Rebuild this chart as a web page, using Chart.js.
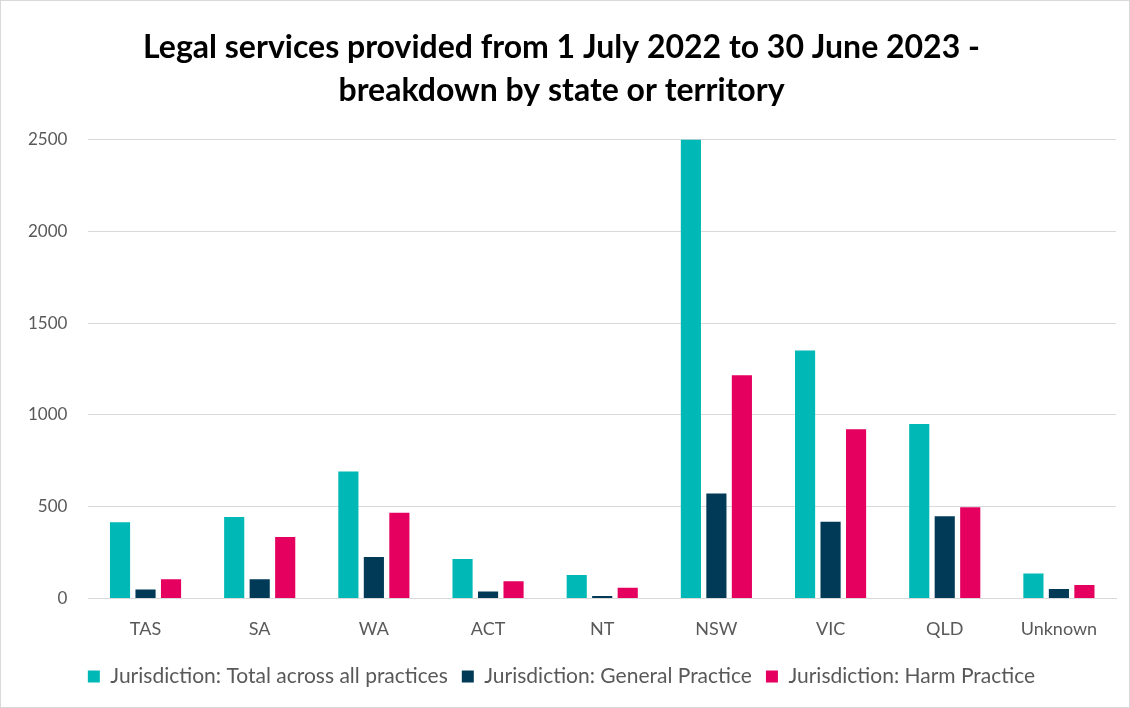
<!DOCTYPE html>
<html>
<head>
<meta charset="utf-8">
<script src="https://cdn.jsdelivr.net/npm/chart.js@4"></script>
<style>
  html, body { margin: 0; padding: 0; background: #fff; }
  #wrap { position: absolute; left: 0; top: 0; width: 1128px; height: 706px; border: 1px solid #d9d9d9; }
  canvas { display: block; }
</style>
</head>
<body>
<div id="wrap"><canvas id="c" width="1128" height="706"></canvas></div>
<script>
const categories = ['TAS', 'SA', 'WA', 'ACT', 'NT', 'NSW', 'VIC', 'QLD', 'Unknown'];
const totalAll = [415, 444, 691, 215, 127, 2500, 1350, 950, 136];
const generalPractice = [49, 104, 225, 38, 13, 571, 418, 448, 51];
const harmPractice = [104, 335, 466, 93, 58, 1215, 922, 497, 73];
const seriesNames = ['Jurisdiction: Total across all practices', 'Jurisdiction: General Practice', 'Jurisdiction: Harm Practice'];
const yTicks = [0, 500, 1000, 1500, 2000, 2500];

const colors = ['#00b8b5', '#003a56', '#e5005f'];
const fontFamily = "Lato, 'Open Sans', sans-serif";

new Chart(document.getElementById('c'), {
  type: 'bar',
  data: {
    labels: categories,
    datasets: [totalAll, generalPractice, harmPractice].map((d, i) => ({
      label: seriesNames[i],
      data: d,
      backgroundColor: colors[i],
      borderWidth: 0,
      barPercentage: 0.79,
      categoryPercentage: 0.67
    }))
  },
  options: {
    responsive: false,
    animation: false,
    layout: { padding: { left: 6, right: 13, top: 0, bottom: 10 } },
    plugins: {
      title: {
        display: true,
        text: ['Legal services provided from 1 July 2022 to 30 June 2023 -', 'breakdown by state or territory'],
        color: '#000',
        font: { family: fontFamily, size: 32, weight: 'bold', lineHeight: 1.32 },
        padding: { top: 26, bottom: 28 }
      },
      legend: {
        position: 'bottom',
        labels: {
          color: '#595959',
          font: { family: fontFamily, size: 21 },
          boxWidth: 12,
          boxHeight: 12,
          padding: 14
        }
      },
      tooltip: { enabled: false }
    },
    scales: {
      x: {
        grid: { display: false },
        border: { color: '#d9d9d9', width: 1 },
        ticks: { color: '#595959', font: { family: fontFamily, size: 18 }, padding: 12 }
      },
      y: {
        min: 0,
        max: 2500,
        afterBuildTicks: axis => { axis.ticks = yTicks.map(v => ({ value: v })); },
        grid: { color: '#d9d9d9', lineWidth: 1, drawTicks: false },
        border: { display: false },
        ticks: {
          color: '#595959',
          font: { family: fontFamily, size: 17 },
          padding: 21,
          callback: v => String(v)
        }
      }
    }
  }
});
</script>
</body>
</html>
